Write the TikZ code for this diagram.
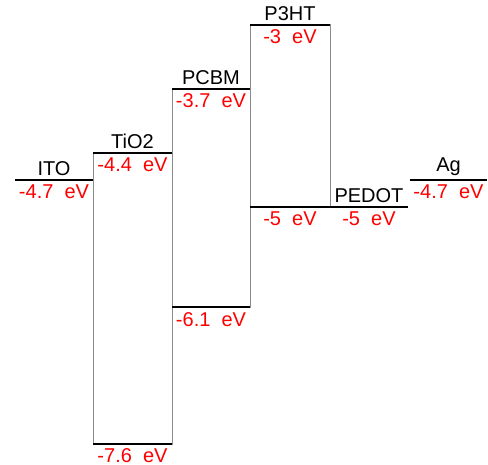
\documentclass[tikz,border=0pt]{standalone}
\usepackage{fontspec}
\setmainfont{Liberation Sans}
\usepackage{tikz}
\usetikzlibrary{arrows.meta,calc,positioning}

\begin{document}
\begin{tikzpicture}[x=0.5pt,y=45.55pt,
  level/.style={line width=1pt,black},
  side/.style={line width=0.5pt,gray!90},
  lvlname/.style={above,inner sep=1.5pt,font=\fontsize{10}{12}\selectfont},
  lvlval/.style={below,inner sep=2pt,red,font=\fontsize{10}{12}\selectfont}]
  \useasboundingbox (0,-2.726) rectangle (488,-7.83);
  % energy levels: x in px, y in eV
  \coordinate (ITOl) at (15,-4.7);   \coordinate (ITOr) at (93,-4.7);
  \coordinate (TiOt) at (93,-4.4);   \coordinate (TiOb) at (172,-7.6);
  \coordinate (PCBt) at (172,-3.7);  \coordinate (PCBb) at (250,-6.1);
  \coordinate (P3Ht) at (250,-3);    \coordinate (P3Hb) at (330,-5);
  \coordinate (PEDl) at (330,-5);    \coordinate (PEDr) at (408,-5);
  \coordinate (Agl) at (410,-4.7);   \coordinate (Agr) at (487,-4.7);
  % band edges
  \draw[side] (TiOt) rectangle (TiOb);
  \draw[side] (PCBt) rectangle (PCBb);
  \draw[side] (P3Ht) rectangle (P3Hb);
  \draw[level] (ITOl) -- node[lvlname] {ITO} node[lvlval] {-4.7~~eV} (ITOr);
  \draw[level] (TiOt) -- node[lvlname] {TiO2} node[lvlval] {-4.4~~eV} (TiOt -| TiOb);
  \draw[level] (TiOb -| TiOt) -- node[lvlval] {-7.6~~eV} (TiOb);
  \draw[level] (PCBt) -- node[lvlname] {PCBM} node[lvlval] {-3.7~~eV} (PCBt -| PCBb);
  \draw[level] (PCBb -| PCBt) -- node[lvlval] {-6.1~~eV} (PCBb);
  \draw[level] (P3Ht) -- node[lvlname] {P3HT} node[lvlval] {-3~~eV} (P3Ht -| P3Hb);
  \draw[level] (P3Hb -| P3Ht) -- node[lvlval] {-5~~eV} (P3Hb);
  \draw[level] (PEDl) -- node[lvlname] {PEDOT} node[lvlval] {-5~~eV} (PEDr);
  \draw[level] (Agl) -- node[lvlname] {Ag} node[lvlval] {-4.7~~eV} (Agr);
\end{tikzpicture}
\end{document}
